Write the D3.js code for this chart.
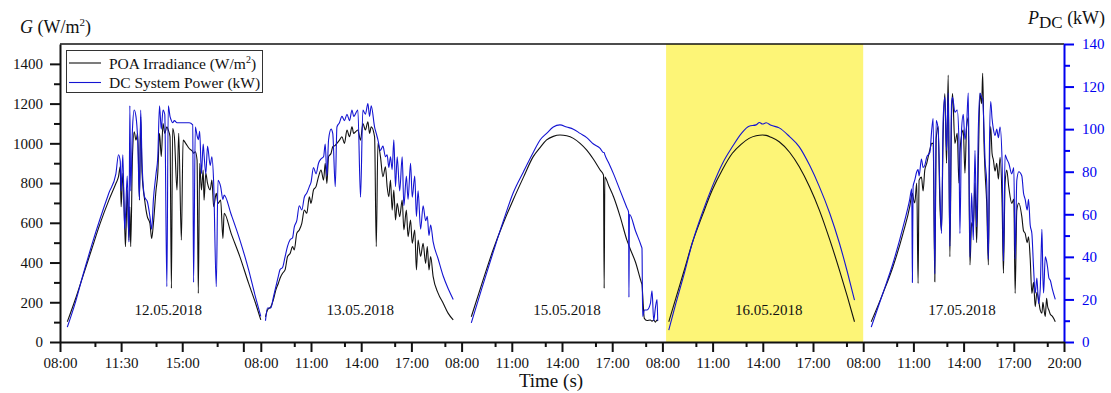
<!DOCTYPE html>
<html><head><meta charset="utf-8">
<script src="https://cdn.jsdelivr.net/npm/d3@7"></script>
<style>
body{margin:0;background:#fff;}
svg{display:block;font-family:"Liberation Serif","Times New Roman",serif;}
</style>
</head><body>
<svg id="chart" width="1111" height="393"></svg>
<script>
// ---------------- data ----------------
const dayLabels = ["12.05.2018","13.05.2018","15.05.2018","16.05.2018","17.05.2018"];
const dayStartHour = [8, 8, 8, 8, 8];
const dayEndHour = [19.5, 20, 20, 20, 20];
const highlightDay = "16.05.2018";

const xMajorTicks = [[8,11.5,15,18.5],[8,11,14,17],[8,11,14,17],[8,11,14,17],[8,11,14,17,20]];
const xMajorLabels = [["08:00","11:30","15:00",""],["08:00","11:00","14:00","17:00"],["08:00","11:00","14:00","17:00"],["08:00","11:00","14:00","17:00"],["08:00","11:00","14:00","17:00","20:00"]];
const xMinorTicks = [[10,13.5,17],[10,13,16,19],[10,13,16,19],[10,13,16,19],[10,13,16,19]];

const gTicks = [0,200,400,600,800,1000,1200,1400];
const gMinorTicks = [100,300,500,700,900,1100,1300];
const pTicks = [0,20,40,60,80,100,120,140];
const pMinorTicks = [10,30,50,70,90,110,130];

const seriesNames = ["POA Irradiance (W/m\u00B2)", "DC System Power (kW)"];

// 12.05.2018
const d1Hours = [8.42,8.86,9.30,9.80,10.30,10.80,11.20,11.35,11.45,11.50,11.60,11.70,11.75,11.85,11.95,12.00,12.05,12.15,12.25,12.35,12.45,12.55,12.62,12.70,12.85,13.00,13.15,13.25,13.35,13.50,13.60,13.70,13.80,13.90,14.00,14.12,14.20,14.30,14.38,14.45,14.55,14.70,14.80,14.95,15.05,15.20,15.40,15.60,15.65,15.75,15.85,15.92,16.00,16.10,16.20,16.25,16.35,16.45,16.60,16.70,16.80,16.95,17.05,17.20,17.33,17.40,17.80,18.30,18.80,19.20,19.50];
const d1G = [102,210,328,463,597,714,798,832,882,681,849,597,480,765,513,681,480,933,1058,1016,1050,714,1133,849,714,631,597,521,597,765,849,1050,933,1100,1050,1083,1067,1033,270,1075,1033,765,1050,513,1016,1000,974,958,950,958,916,245,899,765,866,714,849,798,765,815,681,748,698,714,521,648,547,430,296,195,111];
const d1P = [7,18,31,45,58,70,79,88,85,71,88,53,59,78,47,111,71,100,109,106,95,67,109,84,68,66,59,53,67,79,87,111,100,109,107,26,111,106,104,103,104,103,103,103,103,103,103,102,28,101,97,95,99,79,93,88,79,92,83,87,75,26,76,73,67,69,60,48,34,21,12];

// 13.05.2018
const d2Hours = [8.28,8.40,8.60,8.75,8.90,9.05,9.15,9.30,9.45,9.60,9.75,9.90,10.00,10.15,10.30,10.45,10.60,10.75,10.90,11.00,11.15,11.30,11.45,11.60,11.75,11.85,11.95,12.05,12.20,12.30,12.45,12.55,12.70,12.85,13.00,13.15,13.30,13.45,13.55,13.80,13.96,14.10,14.25,14.40,14.50,14.60,14.80,14.90,15.00,15.15,15.30,15.45,15.55,15.65,15.75,15.85,15.95,16.05,16.15,16.30,16.45,16.55,16.70,16.80,16.95,17.05,17.20,17.30,17.40,17.55,17.70,17.85,17.95,18.05,18.15,18.30,18.60,18.90,19.20,19.50];
const d2G = [127,161,178,212,262,296,321,346,363,430,446,480,463,547,564,597,664,648,731,698,765,782,832,866,815,899,798,933,950,983,990,1000,1016,1033,1000,1067,1033,1083,1050,1067,1016,1100,1067,1108,1050,1083,1033,480,1000,933,832,882,782,731,815,664,765,614,698,631,714,564,664,530,614,497,564,363,513,430,497,396,480,363,430,329,245,195,144,111];
const d2P = [10,16,16,21,26,31,34,35,40,45,48,49,54,57,64,62,68,70,73,75,82,79,84,86,87,93,78,95,100,98,73,101,103,106,104,107,104,109,106,109,68,109,107,112,106,111,101,98,95,90,92,87,88,82,87,81,95,73,87,71,87,64,78,67,84,68,78,59,71,53,64,57,59,50,55,47,39,31,25,20];

// 15.05.2018
const d3Hours = [8.58,9.20,9.88,10.50,11.08,11.70,12.28,12.70,13.08,13.48,13.88,14.28,14.68,15.08,15.48,15.88,16.28,16.48,16.52,16.56,16.80,17.08,17.48,17.88,17.98,18.00,18.03,18.40,18.74,18.78,18.82,18.92,19.08,19.28,19.38,19.48,19.58,19.68,19.72];
const d3G = [127,290,463,600,715,830,933,980,1017,1035,1042,1038,1025,1000,966,920,866,840,270,830,785,731,630,513,490,485,478,400,300,290,240,119,108,111,105,111,100,111,106];
const d3P = [9,25,42,57,70,80,89,95,98,101,102,101,100,98,96,93,91,89,89,88,84,79,71,63,61,21,60,52,45,44,12,15,15,18,24,10,16,20,10];

// 16.05.2018
const d4Hours = [8.38,8.80,9.30,9.78,10.40,10.98,11.60,12.18,12.70,13.18,13.60,13.80,13.98,14.20,14.50,14.98,15.60,16.18,16.80,17.38,18.00,18.58,19.05,19.48];
const d4G = [102,220,360,497,640,765,870,950,995,1025,1038,1041,1042,1040,1030,1008,955,882,780,664,515,362,230,102];
const d4P = [5.6,18,32,46.4,61,73,84,91.7,97.8,101.4,102.0,103.1,102.4,103.0,101.8,100.6,96.5,91.7,83,73,60.5,46.4,33,19.7];

// 17.05.2018
const d5Hours = [8.48,9.18,9.78,10.38,10.78,10.90,10.94,10.98,11.08,11.20,11.28,11.34,11.48,11.58,11.68,11.80,11.98,12.10,12.18,12.28,12.36,12.48,12.58,12.68,12.78,12.88,12.98,13.08,13.18,13.28,13.34,13.48,13.62,13.72,13.78,13.88,13.98,14.08,14.18,14.28,14.38,14.48,14.58,14.68,14.78,14.88,14.98,15.08,15.14,15.22,15.28,15.38,15.48,15.55,15.62,15.70,15.78,15.88,15.98,16.08,16.18,16.30,16.38,16.48,16.58,16.70,16.88,17.00,17.08,17.18,17.30,17.48,17.58,17.68,17.80,17.88,17.98,18.08,18.18,18.28,18.38,18.48,18.58,18.68,18.74,18.78,18.88,18.96,19.02,19.10,19.18,19.30,19.48];
const d5G = [102,245,379,547,681,740,748,730,700,800,295,815,830,760,865,900,967,1000,1000,303,1020,1084,700,560,1050,1251,900,1344,429,1150,1251,1000,1050,800,950,1040,1067,850,1084,1130,388,600,581,800,500,900,1251,1200,1352,1000,860,700,388,900,1084,950,916,860,899,820,930,700,346,800,866,780,698,720,245,664,700,631,560,547,500,530,420,245,300,178,250,212,160,145,200,180,128,220,180,160,140,130,102];
const d5P = [7,23,37,54,67,72,28,73,76,80,81,78,86,82,83,87,89,100,105,32,104,100,72,51,105,115,90,117,45,112,115,108,109,95,51,100,107,95,102,117,40,70,48,90,54,100,117,115,114,100,86,75,39,95,113,105,100,97,100,96,101,85,38,88,86,84,79,82,39,76,80,78,70,67,62,67,55,51,35,23,30,18,25,53,30,23,40,38,35,30,29,25,20];

// ---------------- layout / style ----------------
const M = {left: 60, right: 1064, top: 44, bottom: 342};
const BLACK = "#111", BLUE = "#0000f0", BLUE_LINE = "#1414d2", YELLOW = "#fdf577";
const dateLabelHour = [14.2, 13.95, 14.3, 14.35, 13.9];

const days = dayLabels.map((lab, i) => ({
  label: lab,
  hours: [d1Hours,d2Hours,d3Hours,d4Hours,d5Hours][i],
  g: [d1G,d2G,d3G,d4G,d5G][i],
  p: [d1P,d2P,d3P,d4P,d5P][i]
}));

const svg = d3.select("#chart");
const band = d3.scaleBand().domain(dayLabels).range([M.left, M.right]).paddingInner(0).paddingOuter(0);
const xs = dayLabels.map((lab, i) => d3.scaleLinear()
  .domain([dayStartHour[i], dayEndHour[i]])
  .range([band(lab), band(lab) + band.bandwidth()]));
const yG = d3.scaleLinear().domain([0, 1500]).range([M.bottom, M.top]);
const yP = d3.scaleLinear().domain([0, 140]).range([M.bottom, M.top]);

// highlight
const hi = dayLabels.indexOf(highlightDay);
svg.append("rect")
  .attr("x", xs[hi](8.22)).attr("y", M.top)
  .attr("width", xs[hi](dayEndHour[hi]) - xs[hi](8.22))
  .attr("height", M.bottom - M.top)
  .attr("fill", YELLOW);

// lines
days.forEach((d, i) => {
  const pts = d.hours.map((h, k) => ({h, g: d.g[k], p: d.p[k]}));
  const lg = d3.line().x(o => xs[i](o.h)).y(o => yG(o.g)).curve(d3.curveMonotoneX);
  const lp = d3.line().x(o => xs[i](o.h)).y(o => yP(o.p)).curve(d3.curveMonotoneX);
  svg.append("path").datum(pts).attr("d", lg).attr("fill", "none")
    .attr("stroke", BLACK).attr("stroke-width", 1.1);
  svg.append("path").datum(pts).attr("d", lp).attr("fill", "none")
    .attr("stroke", BLUE_LINE).attr("stroke-width", 1.1);
});

// date labels
days.forEach((d, i) => {
  svg.append("text").attr("x", xs[i](dateLabelHour[i])).attr("y", 315)
    .attr("text-anchor", "middle").attr("font-size", 15).attr("fill", "#111")
    .text(d.label);
});

// top frame
svg.append("line").attr("x1", M.left).attr("x2", M.right).attr("y1", M.top).attr("y2", M.top)
  .attr("stroke", BLACK).attr("stroke-width", 1.6);

function styleAxis(g, color, width) {
  g.select(".domain").attr("stroke", color).attr("stroke-width", width);
  g.selectAll(".tick line").attr("stroke", color).attr("stroke-width", width);
  g.selectAll(".tick text").attr("fill", color).attr("font-size", 15)
    .attr("font-family", '"Liberation Serif","Times New Roman",serif');
}

// left axis
const gLeft = svg.append("g").attr("transform", `translate(${M.left},0)`)
  .call(d3.axisLeft(yG).tickValues(gTicks).tickSize(10).tickSizeOuter(0).tickPadding(7).tickFormat(d3.format("d")));
styleAxis(gLeft, BLACK, 2);
const gLeftMinor = svg.append("g").attr("transform", `translate(${M.left},0)`)
  .call(d3.axisLeft(yG).tickValues(gMinorTicks).tickSize(6).tickFormat(""));
gLeftMinor.select(".domain").remove();
gLeftMinor.selectAll(".tick line").attr("stroke", BLACK).attr("stroke-width", 2);

// right axis
const gRight = svg.append("g").attr("transform", `translate(${M.right},0)`)
  .call(d3.axisRight(yP).tickValues(pTicks).tickSize(10).tickSizeOuter(0).tickPadding(8).tickFormat(d3.format("d")));
styleAxis(gRight, BLUE, 2);
const gRightMinor = svg.append("g").attr("transform", `translate(${M.right},0)`)
  .call(d3.axisRight(yP).tickValues(pMinorTicks).tickSize(6).tickFormat(""));
gRightMinor.select(".domain").remove();
gRightMinor.selectAll(".tick line").attr("stroke", BLUE).attr("stroke-width", 2);

// bottom axes
dayLabels.forEach((lab, i) => {
  const labels = xMajorLabels[i];
  const ticks = xMajorTicks[i];
  const gb = svg.append("g").attr("transform", `translate(0,${M.bottom})`)
    .call(d3.axisBottom(xs[i]).tickValues(ticks).tickSize(10).tickSizeOuter(0).tickPadding(5)
      .tickFormat((t) => labels[ticks.indexOf(t)]));
  styleAxis(gb, BLACK, 2);
  const gm = svg.append("g").attr("transform", `translate(0,${M.bottom})`)
    .call(d3.axisBottom(xs[i]).tickValues(xMinorTicks[i]).tickSize(5).tickFormat(""));
  gm.select(".domain").remove();
  gm.selectAll(".tick line").attr("stroke", BLACK).attr("stroke-width", 2);
});

// axis titles
const lt = svg.append("text").attr("x", 20).attr("y", 33).attr("font-size", 18).attr("fill", "#111");
lt.append("tspan").attr("font-style", "italic").text("G");
lt.append("tspan").text(" (W/m");
lt.append("tspan").attr("dy", -7).attr("font-size", 11).text("2");
lt.append("tspan").attr("dy", 7).text(")");

const rt = svg.append("text").attr("x", 1028).attr("y", 24).attr("font-size", 18).attr("fill", "#111");
rt.append("tspan").attr("font-style", "italic").text("P");
rt.append("tspan").attr("dy", 4).attr("font-size", 17).text("DC");
rt.append("tspan").attr("dy", -4).text(" (kW)");

svg.append("text").attr("x", 551).attr("y", 387).attr("text-anchor", "middle")
  .attr("font-size", 19).attr("fill", "#111").text("Time (s)");

// legend
const lgd = svg.append("g");
lgd.append("rect").attr("x", 66.5).attr("y", 50.5).attr("width", 196).attr("height", 42)
  .attr("fill", "#fff").attr("stroke", "#333").attr("stroke-width", 1);
[[BLACK, 63, 68.5], [BLUE_LINE, 82.5, 88]].forEach(([c, ly, ty], k) => {
  lgd.append("line").attr("x1", 69).attr("x2", 101).attr("y1", ly).attr("y2", ly)
    .attr("stroke", c).attr("stroke-width", 1.1);
  const t = lgd.append("text").attr("x", 109).attr("y", ty).attr("font-size", 15.5).attr("fill", "#111");
  if (k === 0) {
    t.append("tspan").text("POA Irradiance (W/m");
    t.append("tspan").attr("dy", -6).attr("font-size", 10).text("2");
    t.append("tspan").attr("dy", 6).text(")");
  } else {
    t.text(seriesNames[1]);
  }
});
</script>
</body></html>
